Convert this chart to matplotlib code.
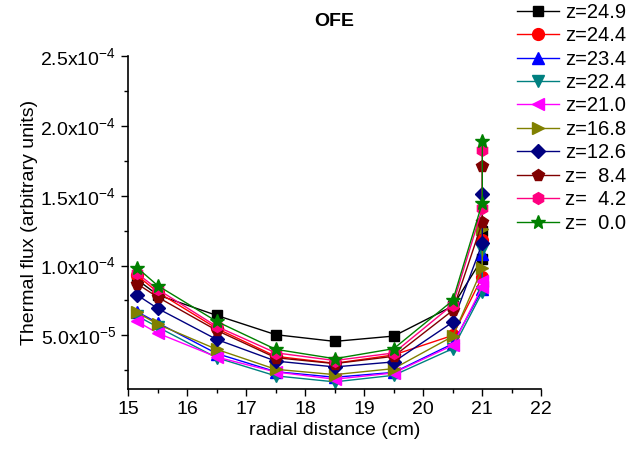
import matplotlib
matplotlib.use("Agg")
import matplotlib.pyplot as plt
from matplotlib.ticker import MultipleLocator, FuncFormatter

plt.rcParams['font.family'] = ['Liberation Sans', 'DejaVu Sans']
plt.rcParams['mathtext.default'] = 'regular'

# radial positions (cm); the last two entries share r = 21.0
radius = [15.15, 15.5, 16.5, 17.5, 18.5, 19.5, 20.5, 21.0, 21.0]

labels = ['z=24.9', 'z=24.4', 'z=23.4', 'z=22.4', 'z=21.0',
          'z=16.8', 'z=12.6', 'z=  8.4', 'z=  4.2', 'z=  0.0']

# thermal flux in units of 1e-5
flux_249 = [9.0, 7.9, 6.43, 5.05, 4.57, 4.95, 7.1, 10.5, 12.5]
flux_244 = [9.3, 8.1, 5.5, 3.5, 3.0, 3.6, 5.0, 9.2, 11.8]
flux_234 = [6.7, 5.9, 3.7, 2.4, 2.0, 2.35, 4.4, 8.3, 10.8]
flux_224 = [6.4, 5.6, 3.4, 2.1, 1.67, 2.14, 4.05, 8.1, 11.1]
flux_210 = [6.0, 5.16, 3.45, 2.38, 1.86, 2.31, 4.29, 8.5, 8.9]
flux_168 = [6.65, 5.8, 4.0, 2.57, 2.19, 2.62, 4.93, 9.8, 12.6]
flux_126 = [7.9, 6.93, 4.71, 3.16, 2.74, 3.1, 5.95, 11.6, 15.1]
flux_84 = [8.7, 7.74, 5.36, 3.4, 2.98, 3.5, 6.79, 13.1, 17.1]
flux_42 = [9.45, 8.3, 5.64, 3.75, 3.2, 3.74, 7.2, 14.1, 18.3]
flux_00 = [9.86, 8.57, 6.0, 4.0, 3.33, 4.05, 7.5, 14.5, 18.9]

series = [flux_249, flux_244, flux_234, flux_224, flux_210,
          flux_168, flux_126, flux_84, flux_42, flux_00]
colors = ['black', 'red', 'blue', '#008080', 'magenta',
          '#808000', '#000080', '#800000', '#FF0080', '#008000']
markers = ['s', 'o', '^', 'v', '<', '>', 'D', 'p', 'h', '*']
sizes = [7.5, 8.5, 8.5, 8.5, 8.5, 8.5, 7.5, 8.5, 8.5, 10.5]

fig = plt.figure(figsize=(6.28, 4.53), dpi=100)
ax = fig.add_axes([0.204, 0.141, 0.658, 0.735])

for vals, c, m, ms, lab in zip(series, colors, markers, sizes, labels):
    ax.plot(radius, [v * 1e-5 for v in vals], color=c, marker=m, ms=ms,
            lw=1.0, mec=c, mfc=c, label=lab)

ax.set_xlim(15, 22)
ax.set_ylim(1.15e-5, 2.5e-4)
ax.xaxis.set_major_locator(MultipleLocator(1))
ax.xaxis.set_minor_locator(MultipleLocator(0.5))
ax.yaxis.set_major_locator(MultipleLocator(5e-5))
ax.yaxis.set_minor_locator(MultipleLocator(2.5e-5))


def sci(v, pos):
    if v < 1e-6:
        return ''
    exp = 0
    m = v
    while m < 1:
        m *= 10
        exp -= 1
    return '%.1fx10$^{%d}$' % (m, exp)


ax.yaxis.set_major_formatter(FuncFormatter(sci))
ax.tick_params(which='major', direction='out', length=5, width=1,
               labelsize=14)
ax.tick_params(which='minor', direction='out', length=3, width=1)
for s in ('top', 'right'):
    ax.spines[s].set_visible(False)
for s in ('left', 'bottom'):
    ax.spines[s].set_linewidth(1.2)

ax.set_xlabel('radial distance (cm)', fontsize=14, labelpad=3)
ax.set_ylabel('Thermal flux (arbitrary units)', fontsize=14, labelpad=2)
ax.set_title('OFE', fontsize=14, fontweight='bold', pad=22)

fig.legend(loc='upper left', bbox_to_anchor=(0.823, 0.994), frameon=False,
           fontsize=14.5, handlelength=2.1, labelspacing=0.22,
           handletextpad=0.3, borderpad=0, borderaxespad=0)

fig.savefig('out.png', dpi=100)
